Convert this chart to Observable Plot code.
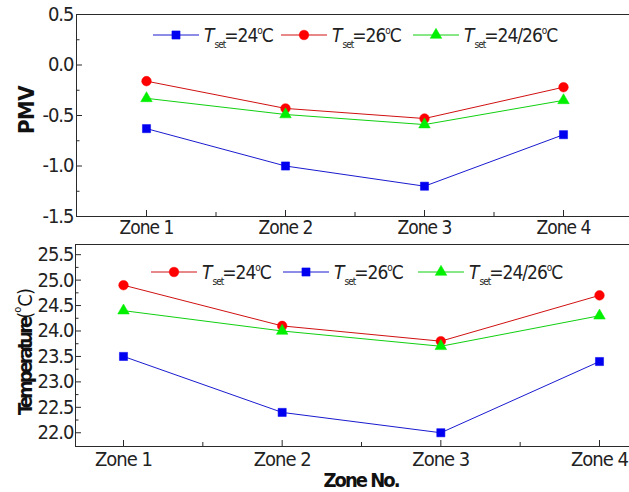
<!DOCTYPE html>
<html>
<head>
<meta charset="utf-8">
<script src="https://cdn.jsdelivr.net/npm/d3@7"></script>
<script src="https://cdn.jsdelivr.net/npm/@observablehq/plot@0.6"></script>
<style>
  html, body { margin: 0; padding: 0; background: #fff; }
  #wrap { position: relative; width: 629px; height: 492px; overflow: hidden; background: #fff; }
  #wrap > svg, #wrap > figure { position: absolute; left: 0; margin: 0; }
</style>
</head>
<body>
<div id="wrap"></div>
<script>
// ---------------- data ----------------
const zones = ["Zone 1", "Zone 2", "Zone 3", "Zone 4"];
const zoneNo = [1, 2, 3, 4];
const zoneMinor = [1.5, 2.5, 3.5];

const pmvTicks = [-1.5, -1.0, -0.5, 0.0, 0.5];
const pmvMinor = [-1.25, -0.75, -0.25, 0.25];
const pmvSet24 = [-0.63, -1.00, -1.20, -0.69];
const pmvSet26 = [-0.16, -0.43, -0.53, -0.22];
const pmvSet2426 = [-0.33, -0.49, -0.59, -0.35];

const tempTicks = [22.0, 22.5, 23.0, 23.5, 24.0, 24.5, 25.0, 25.5];
const tempMinor = [22.25, 22.75, 23.25, 23.75, 24.25, 24.75, 25.25];
const tempSet24 = [24.9, 24.1, 23.8, 24.7];
const tempSet26 = [23.5, 22.4, 22.0, 23.4];
const tempSet2426 = [24.4, 24.0, 23.7, 24.3];

const legendLabels = ["24", "26", "24/26"];

// ---------------- style ----------------
const FONT = '"DejaVu Sans Condensed", "DejaVu Sans", sans-serif';
const AXIS = "#2a2a2a";
const BLUE = { line: "#1a1ad0", fill: "#0000f0", symbol: "square", r: 4.6 };
const RED = { line: "#d01010", fill: "#ff0000", symbol: "circle", r: 4.8 };
const GREEN = { line: "#10d010", fill: "#00f000", symbol: "triangle", r: 4.3 };

function panel(cfg) {
  const marks = [
    Plot.frame({ anchor: "left", stroke: AXIS }),
    Plot.frame({ anchor: "top", stroke: AXIS }),
    Plot.frame({ anchor: "bottom", stroke: AXIS }),
    Plot.axisY(cfg.yTicks, { tickSize: 0, tickPadding: cfg.yPad, tickFormat: d => d.toFixed(1), label: null, fontSize: cfg.yFont, fill: "#222" }),
    Plot.axisY(cfg.yTicks, { tickSize: -6, fill: "none", label: null, stroke: AXIS }),
    Plot.axisY(cfg.yMinor, { tickSize: -3.5, fill: "none", label: null, stroke: AXIS }),
    Plot.axisX(zoneNo, { tickSize: 0, tickPadding: cfg.xPad, tickFormat: i => zones[i - 1], label: null, fontSize: cfg.xFont, fill: "#222" }),
    Plot.axisX(zoneNo, { tickSize: -6, fill: "none", label: null, stroke: AXIS }),
    Plot.axisX(zoneMinor, { tickSize: -4, fill: "none", label: null, stroke: AXIS })
  ];
  for (const s of cfg.series) {
    const rows = zoneNo.map((z, i) => ({ zone: z, value: s.values[i] }));
    marks.push(Plot.line(rows, { x: "zone", y: "value", stroke: s.style.line, strokeWidth: 1 }));
  }
  for (const s of cfg.series) {
    const rows = zoneNo.map((z, i) => ({ zone: z, value: s.values[i] }));
    marks.push(Plot.dot(rows, { x: "zone", y: "value", symbol: s.style.symbol, r: s.style.r, fill: s.style.fill, stroke: s.style.fill, strokeWidth: 0.5 }));
  }
  const p = Plot.plot({
    width: 629,
    height: cfg.height,
    marginLeft: cfg.marginLeft,
    marginRight: 0,
    marginTop: cfg.marginTop,
    marginBottom: cfg.marginBottom,
    style: { fontFamily: FONT, fontSize: "18px", letterSpacing: "-1px", background: "transparent", overflow: "visible" },
    x: { type: "linear", domain: [1, 4], range: cfg.xRange },
    y: { type: "linear", domain: cfg.yDomain, range: cfg.yRange },
    marks
  });
  p.style.top = cfg.top + "px";
  return p;
}

const wrap = document.getElementById("wrap");

const topSeries = [
  { label: legendLabels[0], values: pmvSet24, style: BLUE },
  { label: legendLabels[1], values: pmvSet26, style: RED },
  { label: legendLabels[2], values: pmvSet2426, style: GREEN }
];
const bottomSeries = [
  { label: legendLabels[0], values: tempSet24, style: RED },
  { label: legendLabels[1], values: tempSet26, style: BLUE },
  { label: legendLabels[2], values: tempSet2426, style: GREEN }
];

wrap.appendChild(panel({
  top: 0, height: 240, marginLeft: 76, marginTop: 14, marginBottom: 24,
  xRange: [146, 563], yDomain: [-1.5, 0.5], yRange: [216, 14],
  yTicks: pmvTicks, yMinor: pmvMinor, yPad: 3, xPad: 4, yFont: 20, xFont: 19,
  series: topSeries
}));
wrap.appendChild(panel({
  top: 232, height: 260, marginLeft: 75, marginTop: 12, marginBottom: 46,
  xRange: [123, 599], yDomain: [21.73, 25.70], yRange: [214, 12],
  yTicks: tempTicks, yMinor: tempMinor, yPad: 2, xPad: 5, yFont: 20, xFont: 20,
  series: bottomSeries
}));

// ---------------- overlay: legends and axis titles ----------------
const ov = d3.select(wrap).append("svg")
  .attr("width", 629).attr("height", 492)
  .style("top", "0px")
  .style("font-family", FONT)
  .style("pointer-events", "none");

function legend(series, xs, y) {
  series.forEach((s, i) => {
    const x0 = xs[i];
    const g = ov.append("g");
    g.append("line").attr("x1", x0).attr("x2", x0 + 46).attr("y1", y).attr("y2", y)
      .attr("stroke", s.style.line).attr("stroke-width", 1);
    const sym = { square: d3.symbolSquare, circle: d3.symbolCircle, triangle: d3.symbolTriangle }[s.style.symbol];
    g.append("path").attr("d", d3.symbol(sym, Math.PI * s.style.r * s.style.r)())
      .attr("transform", `translate(${x0 + 23},${y})`)
      .attr("fill", s.style.fill).attr("stroke", s.style.fill).attr("stroke-width", 0.5);
    const t = g.append("text").attr("x", x0 + 51).attr("y", y + 6.5)
      .attr("font-size", 19).attr("fill", "#222").style("letter-spacing", "-1px");
    t.append("tspan").attr("font-style", "italic").text("T");
    t.append("tspan").attr("font-size", 10).attr("dy", 6).attr("dx", 1).text("set");
    t.append("tspan").attr("dy", -6).attr("dx", -1).text("=" + s.label);
    t.append("tspan").attr("font-size", 10).attr("dy", -8).text("o");
    t.append("tspan").attr("dy", 8).text("C");
  });
}
legend(topSeries, [153, 281, 413], 35);
legend(bottomSeries, [151, 283, 418], 272);

// axis titles
ov.append("text")
  .attr("transform", "translate(26,110) rotate(-90)")
  .attr("text-anchor", "middle").attr("dominant-baseline", "central")
  .attr("font-weight", "bold").attr("font-size", 22).attr("fill", "#111")
  .style("letter-spacing", "-0.5px")
  .text("PMV");

const tt = ov.append("text")
  .attr("transform", "translate(25,352) rotate(-90)")
  .attr("text-anchor", "middle").attr("dominant-baseline", "central")
  .attr("font-size", 20).attr("fill", "#111");
tt.append("tspan").attr("font-weight", "bold").style("letter-spacing", "-3px").text("Temperature");
tt.append("tspan").style("letter-spacing", "-1px").text("(");
tt.append("tspan").attr("font-size", 11).attr("dy", -8).text("o");
tt.append("tspan").attr("dy", 8).style("letter-spacing", "-1px").text("C)");

ov.append("text")
  .attr("x", 361).attr("y", 480)
  .attr("text-anchor", "middle").attr("dominant-baseline", "central")
  .attr("font-weight", "bold").attr("font-size", 20).attr("fill", "#111")
  .style("letter-spacing", "-2px")
  .text("Zone No.");
</script>
</body>
</html>
